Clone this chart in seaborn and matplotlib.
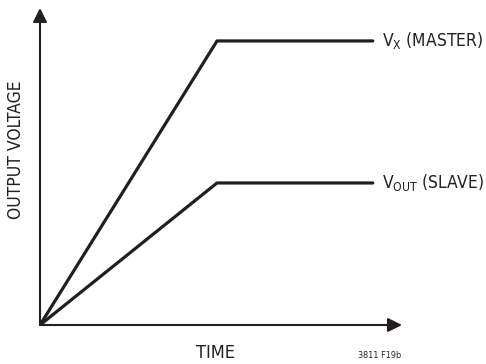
import pandas as pd
import matplotlib
matplotlib.use("Agg")
import matplotlib.pyplot as plt
import seaborn as sns

# --------------------
# Data (normalised ramp)
# --------------------
time = [0.0, 1.0, 1.88]
master = [0.0, 1.0, 1.0]
slave = [0.0, 0.5, 0.5]

df = pd.DataFrame({
    "Time": time * 2,
    "Voltage": master + slave,
    "Signal": ["master"] * len(time) + ["slave"] * len(time),
})

# --------------------
# Plot aesthetics
# --------------------
sns.set_style("white")
plt.rcParams["font.family"] = ["DejaVu Sans"]
plt.rcParams["font.stretch"] = "condensed"
plt.rcParams["mathtext.fontset"] = "custom"
plt.rcParams["mathtext.rm"] = "DejaVu Sans:stretch=condensed"

ink = "#231f20"

fig = plt.figure(figsize=(4.86, 3.64), dpi=100)
ax = fig.add_axes([40 / 486, 39 / 364, 362 / 486, 317 / 364])

sns.lineplot(data=df, x="Time", y="Voltage", units="Signal", estimator=None,
             color=ink, lw=2.3, ax=ax, legend=False)

ax.set_xlim(0, 2.045)
ax.set_ylim(0, 1.116)
ax.set_xticks([])
ax.set_yticks([])
for s in ax.spines.values():
    s.set_visible(False)
ax.set_xlabel("")
ax.set_ylabel("")

# axis arrows
arrow = dict(arrowstyle="-|>", lw=1.5, color=ink, mutation_scale=21,
             shrinkA=0, shrinkB=0)
ax.annotate("", xy=(1, 0), xytext=(0, 0), xycoords="axes fraction",
            arrowprops=arrow, annotation_clip=False)
ax.annotate("", xy=(0, 1), xytext=(0, 0), xycoords="axes fraction",
            arrowprops=arrow, annotation_clip=False)

# line labels
ax.annotate(r"V$_{\mathrm{X}}$ (MASTER)", xy=(time[-1], master[-1]),
            xytext=(6.5, 0), textcoords="offset points", va="center",
            fontsize=12.5, color=ink, annotation_clip=False)
ax.annotate(r"V$_{\mathrm{OUT}}$ (SLAVE)", xy=(time[-1], slave[-1]),
            xytext=(6.5, 0), textcoords="offset points", va="center",
            fontsize=12.5, color=ink, annotation_clip=False)

fig.text(216 / 486, 1 - 353 / 364, "TIME", ha="center", va="center",
         fontsize=13, color=ink)
fig.text(16 / 486, 1 - 150 / 364, "OUTPUT VOLTAGE", ha="center", va="center",
         rotation=90, fontsize=12.5, color=ink)
fig.text(380 / 486, 1 - 355 / 364, "3811 F19b", ha="center", va="center",
         fontsize=6.5, color=ink)

fig.savefig("out.png", dpi=100)
